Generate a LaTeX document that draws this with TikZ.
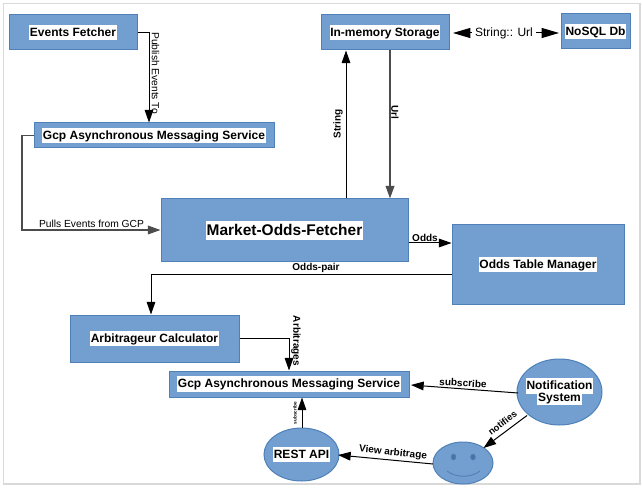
\documentclass[tikz,border=0pt]{standalone}
\usepackage{fontspec}
\setmainfont{Liberation Sans}
\usepackage{xcolor}
\usetikzlibrary{arrows.meta,shapes.geometric,calc}
\definecolor{boxblue}{HTML}{729FCF}
\definecolor{boxline}{HTML}{4F80B8}
\newcommand{\wb}[1]{{\setlength{\fboxsep}{0.6pt}\colorbox{white}{\rule[-.25em]{0pt}{1.15em}#1}}}
\tikzset{box/.style n args={2}{rectangle,draw=boxline,fill=boxblue,line width=.75pt,inner sep=0pt,minimum width=#1*.75pt,minimum height=#2*.75pt,font=\bfseries\fontsize{9}{10}\selectfont},
  oval/.style n args={2}{ellipse,draw=boxline,fill=boxblue,line width=.75pt,inner sep=0pt,minimum width=#1*.75pt,minimum height=#2*.75pt},
  ovaltext/.style={label={[inner sep=0pt,font=\bfseries\fontsize{9}{10.5}\selectfont]center:{#1}}},
  arr/.style={draw=black,line width=.75pt,-{Triangle[length=9.5pt,width=6.5pt]}},
  arrg/.style={arr,draw=black!70,line width=1.1pt},
  lab/.style={inner sep=0pt,font=\fontsize{7.7}{9}\selectfont},
  blab/.style={lab,font=\bfseries\fontsize{7.5}{9}\selectfont}}
\begin{document}
\begin{tikzpicture}[x=.75pt,y=-.75pt]
  \useasboundingbox (0,0) rectangle (642,488);
  \fill[white] (0,0) rectangle (642,488);
  \draw[black!15,line width=1.1pt] (3.5,3.5) rectangle (640,484);
  \node[box={128}{35}] (events) at (73,32.5) {\wb{Events Fetcher}};
  \node[box={240}{25}] (gcpa) at (154,135.5) {\wb{Gcp Asynchronous Messaging Service}};
  \node[box={247}{63},font=\bfseries\fontsize{11.6}{13}\selectfont] (market) at (284.5,230.5) {\wb{Market-Odds-Fetcher}};
  \node[box={128}{35}] (memory) at (385,32.5) {\wb{In-memory Storage}};
  \node[box={69}{35}] (nosql) at (595.5,31.5) {\wb{NoSQL Db}};
  \node[box={172}{79}] (table) at (538,264.5) {\wb{Odds Table Manager}};
  \node[box={169}{47}] (arb) at (154.5,338.5) {\wb{Arbitrageur Calculator}};
  \node[box={240}{26}] (gcpb) at (289,384) {\wb{Gcp Asynchronous Messaging Service}};
  \node[oval={85}{66},ovaltext={\begin{tabular}{@{}c@{}}\wb{Notification}\\[-3pt]\wb{System}\end{tabular}}] (notif) at (559.5,392) {};
  \node[oval={75}{53},ovaltext={\wb{REST API}}] (rest) at (301.5,454.5) {};
  \node[oval={60}{42}] (face) at (463,463) {};
  \fill[black!10!boxline,draw=boxline] (453.5,457) ellipse (2.4 and 3) (473,457) ellipse (2.4 and 3);
  \draw[boxline,line width=.7pt] (447,471) .. controls (456,478) and (471,478) .. (480,471);
  % coordinates for the connector ends
  \coordinate (pub) at (149,0);
  \coordinate (up) at (346,0);
  \coordinate (down) at (390,0);
  \coordinate (oddsin) at (0,243);
  \coordinate (pair) at (0,274);
  \coordinate (pulls) at (22,230);
  \coordinate (left) at (151,274);
  \coordinate (arbin) at (289,0);
  \coordinate (restup) at (302,0);
  \coordinate (stra) at (453,33);
  \coordinate (strb) at (559,33);
  \coordinate (nota) at (527,415.5);
  \coordinate (notb) at (483.5,448);
  \coordinate (subin) at (411,385);
  \coordinate (subout) at (518,393);
  \coordinate (viewa) at (433,464);
  \coordinate (viewb) at (338,455);
  \draw[arr] (events.east) -| (pub |- gcpa.north);
  \draw[arrg] (gcpa.west) -| (pulls) -- (market.west |- pulls);
  \draw[arr] (up |- market.north) -- (up |- memory.south);
  \draw[arrg,line width=1.4pt] (down |- memory.south) -- (down |- market.north);
  \draw[{Triangle[length=13pt,width=7.5pt]}-{Triangle[length=13pt,width=7.5pt]},line width=.75pt] (stra) -- (strb);
  \draw[arr] (market.east |- oddsin) -- (table.west |- oddsin);
  \draw[arr] (table.west |- pair) -- (left) -- (left |- arb.north);
  \draw[arr] (arb.east) -| (arbin |- gcpb.north);
  \draw[arr] (restup |- rest.north) -- (restup |- gcpb.south);
  \draw[arr] (subout) -- (subin);
  \draw[arr] (nota) -- (notb);
  \draw[arr] (viewa) -- (viewb);
  \node[lab,rotate=-90] (publab) at (155.5,73) {Publish Events To};
  \node[lab] (pulllab) at (91.5,224) {Pulls Events from GCP};
  \node[blab,rotate=90] (strlab) at (338,124) {String};
  \node[blab,rotate=-90] (urllab) at (395,112) {Url};
  \node[fill=white,inner sep=2.5pt,font=\fontsize{9}{10}\selectfont] (strurl) at (504,33) {String:: Url};
  \node[blab] (oddlab) at (425,238) {Odds};
  \node[blab] (pairlab) at (316,268) {Odds-pair};
  \node[blab,rotate=-90] (arblab) at (296,341) {Arbitrages};
  \node[inner sep=0pt,font=\bfseries\fontsize{3.5}{4}\selectfont,rotate=90] (sublab) at (295,413) {subscribe};
  \node[blab,rotate=-3] (subslab) at (463,383) {subscribe};
  \node[blab,rotate=38,font=\bfseries\fontsize{7}{8}\selectfont] (notlab) at (502.5,423) {notifies};
  \node[blab,rotate=-6] (viewlab) at (393,453) {View arbitrage};
\end{tikzpicture}
\end{document}
